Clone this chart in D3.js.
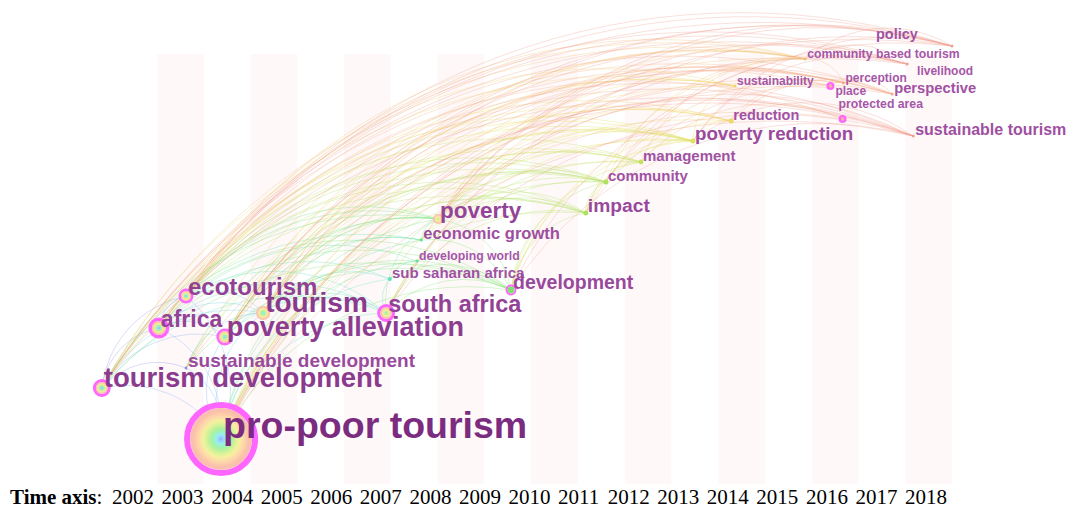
<!DOCTYPE html>
<html><head><meta charset="utf-8">
<script src="https://cdn.jsdelivr.net/npm/d3@7"></script>
<style>html,body{margin:0;padding:0;background:#fff;}svg{display:block;}</style>
</head><body>
<svg id="chart" width="1073" height="509"></svg>
<script>
// ---------------- data ----------------
const years = ["2002","2003","2004","2005","2006","2007","2008","2009","2010","2011","2012","2013","2014","2015","2016","2017","2018"];
const nodeNames = ["pro-poor tourism","tourism development","sustainable development","africa","poverty alleviation","ecotourism","tourism","south africa","sub saharan africa","developing world","economic growth","poverty","development","impact","community","management","poverty reduction","reduction","sustainability","place","protected area","perception","community based tourism","policy","livelihood","perspective","sustainable tourism"];
// position on the time axis (year) and vertical layout level (0-100)
const nodeYears  = [2003.37,2000.82,2002.62,2002.04,2003.45,2002.62,2004.27,2006.90,2006.98,2007.56,2007.65,2008.01,2009.57,2011.17,2011.60,2012.35,2013.46,2014.28,2014.36,2016.40,2016.66,2016.68,2015.86,2019.00,2018.04,2017.72,2018.17];
const nodeLevels = [10.47,22.33,26.98,36.28,34.19,43.72,39.77,39.77,47.67,51.86,56.74,61.63,45.12,63.02,70.23,74.88,79.77,84.42,92.56,92.56,84.88,93.26,98.84,101.86,97.67,90.70,80.93];
const nodeFreq   = [106,66,32,48,64,52,68,50,16,5,22,46,34,33,16,16,31,14,4,4,5,4,5,14,4,15,20];
const nodeCites  = [100,3.7,0.23,5.1,3.7,2.6,5.1,3.7,0.42,0.23,0.23,2.6,1.27,0.65,0.65,0.65,0.65,0.65,0.23,0.23,0.23,0.23,0.23,0.23,0.23,0.23,0.23];
const nodeCentrality = [0.6,0.3,0,0.35,0.25,0.25,0,0.3,0,0,0,0,0.2,0,0,0,0,0,0,0.25,0.25,0,0,0,0,0,0];
const links = [
  ["pro-poor tourism",["tourism development","sustainable development","africa","poverty alleviation","ecotourism","tourism","south africa","sub saharan africa","developing world","economic growth","poverty","development","impact","community","management","poverty reduction","reduction","sustainability","place","protected area","perception","community based tourism","policy","livelihood","perspective","sustainable tourism"]],
  ["tourism development",["sustainable development","africa","poverty alleviation","ecotourism","tourism","south africa","economic growth","poverty","development","impact","community","management","poverty reduction","reduction","sustainability","perception","community based tourism","policy","livelihood","perspective","sustainable tourism"]],
  ["africa",["ecotourism","poverty alleviation","tourism","south africa","sub saharan africa","developing world","poverty","development","impact","community","poverty reduction","reduction","community based tourism","policy","livelihood","sustainable tourism"]],
  ["ecotourism",["tourism","south africa","poverty","development","impact","community","management","poverty reduction","sustainability","protected area","community based tourism","policy","livelihood","perspective","sustainable tourism"]],
  ["poverty alleviation",["tourism","south africa","economic growth","poverty","development","impact","community","management","poverty reduction","reduction","sustainability","place","perception","community based tourism","policy","livelihood","perspective","sustainable tourism"]],
  ["tourism",["south africa","sub saharan africa","economic growth","poverty","development","impact","community","management","poverty reduction","reduction","sustainability","perception","community based tourism","policy","perspective","sustainable tourism"]],
  ["sustainable development",["tourism","poverty","development","community","poverty reduction","community based tourism","sustainable tourism"]],
  ["south africa",["sub saharan africa","poverty","development","impact","community","management","poverty reduction","policy","livelihood","sustainable tourism"]],
  ["poverty",["economic growth","development","impact","community","management","poverty reduction","reduction","sustainability","community based tourism","policy","livelihood","perspective","sustainable tourism"]],
  ["development",["impact","community","management","poverty reduction","reduction","policy","sustainable tourism"]],
  ["economic growth",["development","impact","poverty reduction","policy"]],
  ["sub saharan africa",["developing world","development","community"]],
  ["impact",["community","management","poverty reduction","perception","community based tourism","perspective"]],
  ["community",["management","poverty reduction","community based tourism","livelihood"]],
  ["management",["poverty reduction","protected area","community based tourism"]],
  ["poverty reduction",["reduction","sustainability","policy","livelihood","sustainable tourism"]],
  ["reduction",["place","perspective"]],
  ["community based tourism",["policy","livelihood","perception"]],
  ["perception",["perspective","place"]]
];

// ---------------- layout ----------------
const svg = d3.select("#chart");
const firstYear = +years[0], lastYear = +years[years.length-1];
const x = d3.scaleLinear().domain([firstYear, lastYear + 1]).range([157, 952]);
const y = d3.scaleLinear().domain([0, 100]).range([484, 54]);
const axisX = d3.scaleLinear().domain([firstYear, lastYear]).range([112, 905]);

const ringStops = ["#9a9aff","#9ab8ff","#9ad8ff","#9aeef0","#9af2d0","#a0f2b0","#aef2a0","#c0f29a","#d4f29a","#e6f29a","#f4f0a0","#fae6a4","#fcdcaa","#fdd2aa","#fcc8aa","#fbc0aa","#fab8aa"];
const yearColor = d3.scaleOrdinal().domain(years.map(Number)).range(ringStops);
const edgeStops = ["#9090e8","#80a8f0","#70c8f0","#60d8e0","#60e0c0","#60e0a0","#70e080","#80e070","#98e060","#b0e060","#c8e060","#e0e060","#f0d868","#f4c070","#f4b080","#f4a888","#f0a090"];
const edgeColor = d3.scaleOrdinal().domain(years.map(Number)).range(edgeStops);
const clampYear = v => Math.max(firstYear, Math.min(lastYear, Math.floor(v)));
const nodeR = d3.scaleSqrt().domain([0, 100]).range([0, 31]);
const fontSize = d3.scaleLinear().domain([0, 100]).range([11, 36]);
const labelColor = d3.scaleLinear().domain([12, 36]).range(["#a656a8", "#7c2c80"]).clamp(true);

const nodes = nodeNames.map((n, i) => ({
  name: n, year: nodeYears[i], level: nodeLevels[i], freq: nodeFreq[i],
  cites: nodeCites[i], cent: nodeCentrality[i],
  px: x(nodeYears[i]), py: y(nodeLevels[i])
}));
const byName = new Map(nodes.map(d => [d.name, d]));

// background time-slice stripes
svg.append("g").selectAll("rect")
  .data(years.map(Number).filter((v, i) => i % 2 === 0))
  .join("rect")
  .attr("x", d => x(d)).attr("y", y(100))
  .attr("width", d => x(d + 1) - x(d)).attr("height", y(0) - y(100))
  .attr("fill", "#fef8f9");

// edges (circular arcs bending up-left, coloured by the slice of the later term)
const edges = [];
links.forEach(([s, ts]) => ts.forEach(t => {
  let a = byName.get(s), b = byName.get(t);
  if (b.px < a.px) [a, b] = [b, a];
  edges.push({a, b, yr: clampYear(Math.max(a.year, b.year))});
}));
edges.sort((p, q) => p.yr - q.yr);
svg.append("g").attr("fill", "none").selectAll("path")
  .data(edges).join("path")
  .attr("d", d => {
    const c = Math.hypot(d.b.px - d.a.px, d.b.py - d.a.py);
    const r = c * 0.85;
    return `M${d.a.px},${d.a.py}A${r},${r} 0 0,1 ${d.b.px},${d.b.py}`;
  })
  .attr("stroke", d => edgeColor(d.yr))
  .attr("stroke-opacity", 0.32)
  .attr("stroke-width", 1);

// nodes as tree rings
const gNodes = svg.append("g");
nodes.forEach(d => {
  const g = gNodes.append("g").attr("transform", `translate(${d.px},${d.py})`);
  const r = nodeR(d.cites);
  const y0 = clampYear(d.year);
  const ringYears = d3.range(y0, lastYear + 1);
  const step = r / ringYears.length;
  if (d.cent > 0) {
    const w = d.cent * 10;
    g.append("circle").attr("r", r + w / 2).attr("fill", "none")
      .attr("stroke", "#ff66ff").attr("stroke-width", w);
  }
  if (r > 4) {
    ringYears.slice().reverse().forEach((yy, k) => {
      g.append("circle").attr("r", r - k * step)
        .attr("fill", yearColor(yy)).attr("fill-opacity", 0.9);
    });
  } else {
    g.append("circle").attr("r", Math.max(r, 1.5))
      .attr("fill", edgeColor(y0));
  }
});

// labels (drawn at the node; a few were moved aside in the original layout)
const labelShift = {"place": [3, 10], "protected area": [-6, -10], "policy": [-78, -6], "livelihood": [8, 12]};
svg.append("g").selectAll("text")
  .data(nodes).join("text")
  .attr("x", d => d.px + 2 + (labelShift[d.name] ? labelShift[d.name][0] : 0))
  .attr("y", d => d.py - 1 + (labelShift[d.name] ? labelShift[d.name][1] : 0))
  .attr("font-family", "'Liberation Sans', Arial, sans-serif")
  .attr("font-weight", "bold")
  .attr("font-size", d => fontSize(d.freq))
  .attr("fill", d => labelColor(fontSize(d.freq)))
  .text(d => d.name);

// time axis caption
const cap = svg.append("text").attr("x", 10).attr("y", 504)
  .attr("font-family", "'Liberation Serif', 'Times New Roman', serif")
  .attr("font-size", 21).attr("fill", "#000");
cap.append("tspan").attr("font-weight", "bold").text("Time axis");
cap.append("tspan").text(":");
svg.append("g").selectAll("text")
  .data(years).join("text")
  .attr("x", d => axisX(+d)).attr("y", 504)
  .attr("font-family", "'Liberation Serif', 'Times New Roman', serif")
  .attr("font-size", 21).attr("fill", "#000")
  .text(d => d);
</script>
</body></html>
